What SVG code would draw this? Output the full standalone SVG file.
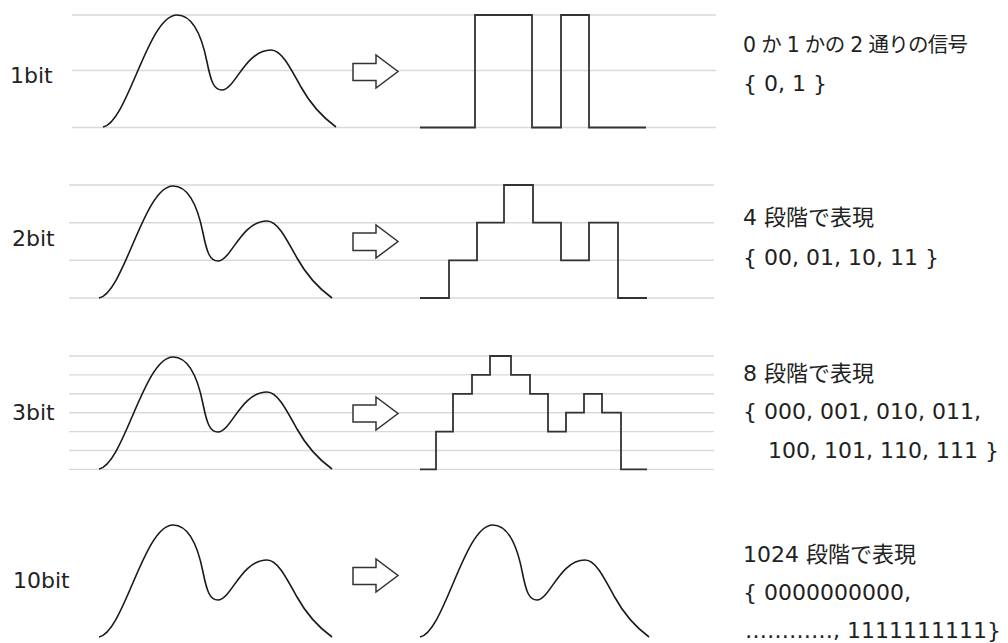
<svg xmlns="http://www.w3.org/2000/svg" width="1008" height="643" viewBox="0 0 1008 643">
<style>
.grid{stroke:#d9d9d9;stroke-width:1.4;fill:none}
.wave{stroke:#1a1a1a;stroke-width:1.6;fill:none}
.step{stroke:#333;stroke-width:1.8;fill:none}
.arrow{stroke:#333;stroke-width:1.5;fill:#fff}
text{font-family:"DejaVu Sans","Noto Sans CJK JP",sans-serif;font-size:22px;fill:#222}
</style>
<defs>
<path id="wv" d="M0 0 C25 -5 45 -112 74 -112 C88 -112 98 -95 104 -65 C108 -45 111 -37 119 -37 C132 -37 142 -77 168 -77 C178 -77 186 -62 198 -40 C208 -22 222 -8 233 0"/>
</defs>
<g id="row1">
<path class="grid" d="M72 15H716M72 70.5H716M72 127.5H716"/>
<text x="10" y="83">1bit</text>
<use href="#wv" class="wave" transform="translate(103,127)"/>
<polygon class="arrow" points="353,63.5 376,63.5 376,55 398,71.5 376,88 376,80.5 353,80.5"/>
<path class="step" d="M420 127.5H475V15H532V127.5H561V15H589V127.5H646"/>
<text x="743" y="52" style="font-size:20.5px" textLength="225" lengthAdjust="spacing">0 か 1 かの 2 通りの信号</text>
<text x="743" y="91">{ 0, 1 }</text>
</g>
<g id="row2">
<path class="grid" d="M69 185H714M69 222.7H714M69 260.3H714M69 298H714"/>
<text x="12" y="246">2bit</text>
<use href="#wv" class="wave" transform="translate(99,298)"/>
<polygon class="arrow" points="353,233 376,233 376,225 398,241.5 376,258 376,250.5 353,250.5"/>
<path class="step" d="M420 298H449V260.3H477V222.7H504V185H533V222.7H561V260.3H589V222.7H618V298H647"/>
<text x="743" y="225">4 段階で表現</text>
<text x="743" y="265">{ 00, 01, 10, 11 }</text>
</g>
<g id="row3">
<path class="grid" d="M69 356H714M69 374.9H714M69 393.8H714M69 412.7H714M69 431.6H714M69 450.5H714M69 469.4H714"/>
<text x="12" y="420">3bit</text>
<use href="#wv" class="wave" transform="translate(99,469)"/>
<polygon class="arrow" points="353,405 376,405 376,397 398,413.5 376,430 376,422 353,422"/>
<path class="step" d="M420 469.4H436V431.6H453V393.8H472V374.9H490V356H511V374.9H530V393.8H548V431.6H566V412.7H584V393.8H602V412.7H621V469.4H647"/>
<text x="743" y="381">8 段階で表現</text>
<text x="743" y="419">{ 000, 001, 010, 011,</text>
<text x="768" y="458">100, 101, 110, 111 }</text>
</g>
<g id="row4">
<text x="13" y="588">10bit</text>
<use href="#wv" class="wave" transform="translate(99,637)"/>
<polygon class="arrow" points="353,567.5 376,567.5 376,559 398,575.5 376,592 376,584.5 353,584.5"/>
<use href="#wv" class="wave" transform="translate(420,637) scale(0.983,1)"/>
<text x="743" y="562">1024 段階で表現</text>
<text x="743" y="600">{ 0000000000,</text>
<text x="745" y="638">…………, 1111111111}</text>
</g>
</svg>
